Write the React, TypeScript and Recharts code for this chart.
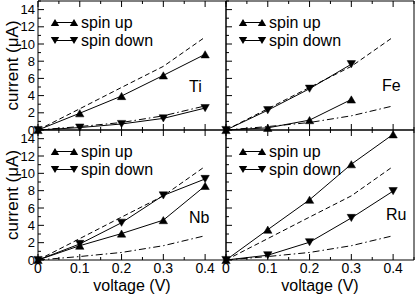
import React from 'react';
import { ComposedChart, Line, XAxis, YAxis, Customized } from 'recharts';

// ---------- data ----------
const voltages = [0, 0.1, 0.2, 0.3, 0.4];
const dashedRef = [0, 2.47, 4.95, 7.4, 10.8];
const dashDotRef = [0, 0.4, 0.87, 1.65, 2.8];

const tiUp = [0, 1.95, 3.95, 6.35, 8.8];
const tiDown = [0, 0.28, 0.7, 1.35, 2.55];
const feUp = [0, 0.25, 1.15, 3.55, null];
const feDown = [0, 2.3, 4.8, 7.65, null];
const nbUp = [0, 1.65, 3.05, 4.6, 8.55];
const nbDown = [0, 1.85, 4.3, 7.45, 9.35];
const ruUp = [0, 3.5, 6.95, 11.05, 14.5];
const ruDown = [0, 0.55, 2.05, 4.85, 7.95];

const xTicks = [0, 0.05, 0.1, 0.15, 0.2, 0.25, 0.3, 0.35, 0.4, 0.45];
const xMajor = [0, 0.1, 0.2, 0.3, 0.4];
const xTickLabels = ['0', '0.1', '0.2', '0.3', '0.4'];
const yTicks = [0, 1, 2, 3, 4, 5, 6, 7, 8, 9, 10, 11, 12, 13, 14, 15];
const yMajor = [0, 2, 4, 6, 8, 10, 12, 14];
const yTickLabels = ['0', '2', '4', '6', '8', '10', '12', '14'];

const legendNames = ['spin up', 'spin down'];
const xTitle = 'voltage (V)';
const yTitle = 'current (\u03bcA)';

// ---------- layout ----------
const W = 415;
const H = 296;
const AX = 1; // thickness reserved for each axis box
const FONT = '"Liberation Sans", Arial, Helvetica, sans-serif';
const colLeft = [38, 226];
const colRight = [226, 414];
const rowTop = [1, 130];
const rowBottom = [130, 260];

type Panel = {
  name: string;
  up: (number | null)[];
  down: (number | null)[];
  col: number;
  row: number;
  labelDx: number;
  labelDy: number;
};

const panels: Panel[] = [
  { name: 'Ti', up: tiUp, down: tiDown, col: 0, row: 0, labelDx: 151, labelDy: 91 },
  { name: 'Fe', up: feUp, down: feDown, col: 1, row: 0, labelDx: 156, labelDy: 90 },
  { name: 'Nb', up: nbUp, down: nbDown, col: 0, row: 1, labelDx: 151, labelDy: 93 },
  { name: 'Ru', up: ruUp, down: ruDown, col: 1, row: 1, labelDx: 160, labelDy: 90 },
];

function buildRows(p: Panel) {
  return voltages.map((v, i) => ({
    v,
    dash: dashedRef[i],
    dashdot: dashDotRef[i],
    up: p.up[i],
    down: p.down[i],
  }));
}

function triPoints(cx: number, cy: number, dir: 'up' | 'down') {
  const s = 4.2;
  const h = 3.6;
  if (dir === 'up') return `${cx},${cy - h} ${cx - s},${cy + h} ${cx + s},${cy + h}`;
  return `${cx},${cy + h} ${cx - s},${cy - h} ${cx + s},${cy - h}`;
}

const makeDot = (dir: 'up' | 'down') => (props: any) => {
  const { cx, cy, index } = props;
  if (cx == null || cy == null || Number.isNaN(cx) || Number.isNaN(cy)) {
    return <g key={`e-${dir}-${index}`} />;
  }
  return <polygon key={`d-${dir}-${index}`} points={triPoints(cx, cy, dir)} fill="#000" stroke="#000" strokeWidth={0.5} />;
};

const near = (a: number, list: number[]) => list.some((b) => Math.abs(a - b) < 1e-6);

const makeTick = (side: 'bottom' | 'top' | 'left' | 'right', labels: boolean) => (props: any) => {
  const { x, y, payload, index } = props;
  const v = payload.value as number;
  const isX = side === 'bottom' || side === 'top';
  const major = isX ? near(v, xMajor) : near(v, yMajor);
  const len = major ? 6 : 3;
  let ln: React.ReactNode = null;
  if (side === 'bottom') ln = <line x1={x} x2={x} y1={y} y2={y - len} stroke="#000" />;
  if (side === 'top') ln = <line x1={x} x2={x} y1={y} y2={y + len} stroke="#000" />;
  if (side === 'left') ln = <line x1={x} x2={x + len} y1={y} y2={y} stroke="#000" />;
  if (side === 'right') ln = <line x1={x} x2={x - len} y1={y} y2={y} stroke="#000" />;
  let txt: React.ReactNode = null;
  if (labels && major) {
    if (isX) {
      const k = xMajor.findIndex((b) => Math.abs(b - v) < 1e-6);
      txt = (
        <text x={x} y={y + 13} textAnchor="middle" fontSize={14} fontFamily={FONT} fill="#000">
          {xTickLabels[k]}
        </text>
      );
    } else {
      const k = yMajor.findIndex((b) => Math.abs(b - v) < 1e-6);
      txt = (
        <text x={x - 3} y={y + 4.5} textAnchor="end" fontSize={13} fontFamily={FONT} fill="#000">
          {yTickLabels[k]}
        </text>
      );
    }
  }
  return (
    <g key={`t-${side}-${index}`}>
      {ln}
      {txt}
    </g>
  );
};

function Decor({ p }: { p: Panel }) {
  const L = colLeft[p.col];
  const T = rowTop[p.row];
  const rows = [T + 21.5, T + 39.5];
  return (
    <g fontFamily={FONT}>
      {rows.map((yy, i) => {
        const dir = i === 0 ? 'up' : 'down';
        return (
          <g key={i}>
            <line x1={L + 17} x2={L + 36} y1={yy} y2={yy} stroke="#000" />
            <polygon points={triPoints(L + 17, yy, dir)} fill="#000" />
            <polygon points={triPoints(L + 36, yy, dir)} fill="#000" />
            <text x={L + 43} y={yy + 5.5} fontSize={16} fill="#000">
              {legendNames[i]}
            </text>
          </g>
        );
      })}
      <text x={L + p.labelDx} y={T + p.labelDy} fontSize={16} fill="#000">
        {p.name}
      </text>
      {p.col === 0 && (
        <text
          x={18}
          y={(rowTop[p.row] + rowBottom[p.row]) / 2}
          transform={`rotate(-90 18 ${(rowTop[p.row] + rowBottom[p.row]) / 2})`}
          textAnchor="middle"
          fontSize={17}
          fill="#000"
        >
          {yTitle}
        </text>
      )}
      {p.row === 1 && (
        <text x={(colLeft[p.col] + colRight[p.col]) / 2} y={291} textAnchor="middle" fontSize={16} fill="#000">
          {xTitle}
        </text>
      )}
    </g>
  );
}

function PanelChart({ p }: { p: Panel }) {
  const data = buildRows(p);
  const margin = {
    left: colLeft[p.col] - AX,
    right: W - colRight[p.col] - AX,
    top: rowTop[p.row] - AX,
    bottom: H - rowBottom[p.row] - AX,
  };
  const axisLine = { stroke: '#000', strokeWidth: 1 };
  return (
    <div style={{ position: 'absolute', left: 0, top: 0, width: W, height: H }}>
      <ComposedChart width={W} height={H} data={data} margin={margin}>
        <XAxis
          xAxisId="b"
          dataKey="v"
          type="number"
          domain={[0, 0.45]}
          ticks={xTicks}
          interval={0}
          orientation="bottom"
          height={AX}
          tickSize={0}
          tickMargin={0}
          tickLine={false}
          axisLine={axisLine}
          tick={makeTick('bottom', p.row === 1)}
        />
        <XAxis
          xAxisId="t"
          dataKey="v"
          type="number"
          domain={[0, 0.45]}
          ticks={xTicks}
          interval={0}
          orientation="top"
          height={AX}
          tickSize={0}
          tickMargin={0}
          tickLine={false}
          axisLine={axisLine}
          tick={makeTick('top', false)}
        />
        <YAxis
          yAxisId="l"
          type="number"
          domain={[0, 15]}
          ticks={yTicks}
          interval={0}
          orientation="left"
          width={AX}
          tickSize={0}
          tickMargin={0}
          tickLine={false}
          axisLine={axisLine}
          tick={makeTick('left', p.col === 0)}
        />
        <YAxis
          yAxisId="r"
          type="number"
          domain={[0, 15]}
          ticks={yTicks}
          interval={0}
          orientation="right"
          width={AX}
          tickSize={0}
          tickMargin={0}
          tickLine={false}
          axisLine={axisLine}
          tick={makeTick('right', false)}
        />
        <Line xAxisId="b" yAxisId="l" dataKey="dash" stroke="#000" strokeWidth={1} strokeDasharray="5 3" dot={false} activeDot={false} isAnimationActive={false} type="linear" />
        <Line xAxisId="b" yAxisId="l" dataKey="dashdot" stroke="#000" strokeWidth={1} strokeDasharray="7 3 1.5 3" dot={false} activeDot={false} isAnimationActive={false} type="linear" />
        <Line xAxisId="b" yAxisId="l" dataKey="up" stroke="#000" strokeWidth={1} dot={makeDot('up')} activeDot={false} isAnimationActive={false} type="linear" />
        <Line xAxisId="b" yAxisId="l" dataKey="down" stroke="#000" strokeWidth={1} dot={makeDot('down')} activeDot={false} isAnimationActive={false} type="linear" />
        <Customized component={<Decor p={p} />} />
      </ComposedChart>
    </div>
  );
}

export default function App() {
  return (
    <div style={{ position: 'absolute', left: 0, top: 0, width: W, height: H, background: '#fff', fontFamily: FONT }}>
      {panels.map((p) => (
        <PanelChart key={p.name} p={p} />
      ))}
    </div>
  );
}
